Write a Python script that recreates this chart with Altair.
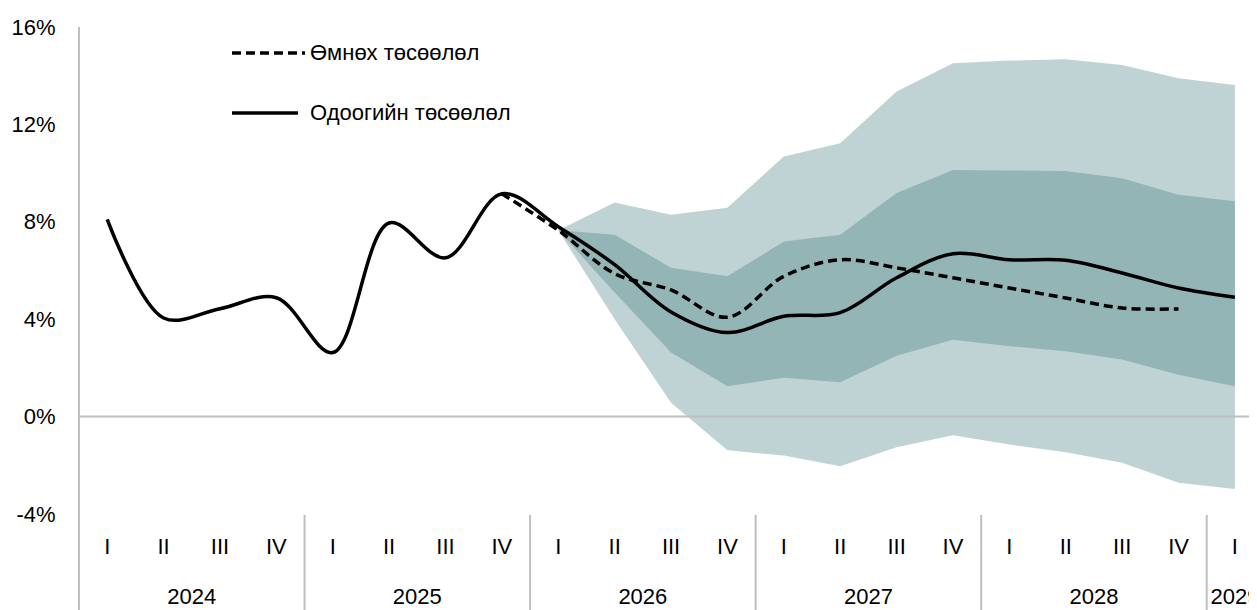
import altair as alt
import pandas as pd

# ---- data ----
quarters = ["I", "II", "III", "IV"] * 5 + ["I"]
years = ["2024", "2025", "2026", "2027", "2028", "2029"]
year_centers = [1.5, 5.5, 9.5, 13.5, 17.5, 20.0]
year_breaks = [3.5, 7.5, 11.5, 15.5, 19.5]

# current forecast (solid), 2024 I .. 2029 I
current = [8.1, 4.05, 4.43, 4.88, 2.63, 7.95, 6.52, 9.15, 7.8, 6.24, 4.3,
           3.45, 4.12, 4.27, 5.7, 6.69, 6.44, 6.42, 5.9, 5.28, 4.9]
# previous forecast (dashed), 2025 IV .. 2028 IV
previous_start = 7
previous = [9.15, 7.65, 5.87, 5.2, 4.08, 5.76, 6.44, 6.11, 5.7, 5.28, 4.87,
            4.46, 4.42]
# fan bands, 2026 I .. 2029 I
band_start = 8
outer_hi = [7.65, 8.79, 8.29, 8.58, 10.68, 11.23, 13.35, 14.51, 14.62, 14.68,
            14.44, 13.9, 13.62]
inner_hi = [7.65, 7.47, 6.11, 5.76, 7.19, 7.47, 9.18, 10.13, 10.11, 10.09,
            9.79, 9.11, 8.84]
inner_lo = [7.65, 5.1, 2.63, 1.25, 1.6, 1.41, 2.5, 3.16, 2.89, 2.68, 2.34,
            1.72, 1.25]
outer_lo = [7.65, 4.0, 0.57, -1.38, -1.6, -2.04, -1.26, -0.77, -1.15, -1.46,
            -1.9, -2.72, -2.97]

legend_labels = ["Өмнөх төсөөлөл", "Одоогийн төсөөлөл"]
y_ticks = [-4, 0, 4, 8, 12, 16]

# ---- tables ----
idx = list(range(len(current)))
df_cur = pd.DataFrame({"i": idx, "v": current})
df_prev = pd.DataFrame({"i": list(range(previous_start, previous_start + len(previous))),
                        "v": previous})
bi = list(range(band_start, band_start + len(outer_hi)))
df_band = pd.DataFrame({"i": bi, "oh": outer_hi, "ol": outer_lo,
                        "ih": inner_hi, "il": inner_lo})
df_q = pd.DataFrame({"i": idx, "q": quarters})
df_y = pd.DataFrame({"c": year_centers, "y": years})
df_sep = pd.DataFrame({"s": year_breaks})
df_zero = pd.DataFrame({"v": [0]})
df_leg1 = pd.DataFrame({"t": [legend_labels[0]]})
df_leg2 = pd.DataFrame({"t": [legend_labels[1]]})

W, H = 1170, 487
EXTRA = 96
FONT = "Liberation Sans"
FS = 22
GRAY = "#bfbfbf"

xs = alt.Scale(domain=[-0.5, 20.25], nice=False, zero=False)
ys = alt.Scale(domain=[-4, 16], nice=False, zero=False)
X = lambda f: alt.X(f, scale=xs, axis=None)

outer = alt.Chart(df_band).mark_area(color="#bfd3d5", opacity=1).encode(
    x=X("i:Q"),
    y=alt.Y("oh:Q", scale=ys, axis=alt.Axis(values=y_ticks, labelExpr="datum.value + '%'",
                                             ticks=False, domain=False, grid=False,
                                             labelFontSize=FS, labelFont=FONT,
                                             labelColor="#000", labelPadding=24, title=None)),
    y2="ol:Q")
inner = alt.Chart(df_band).mark_area(color="#93b5b6", opacity=1).encode(
    x=X("i:Q"), y=alt.Y("ih:Q", scale=ys), y2="il:Q")

zero = alt.Chart(df_zero).mark_rule(color=GRAY, strokeWidth=2).encode(
    y=alt.Y("v:Q", scale=ys), x=alt.value(0), x2=alt.value(W))

left_axis = alt.Chart(df_zero).mark_rule(color=GRAY, strokeWidth=2).encode(
    x=alt.value(0), y=alt.value(0), y2=alt.value(H + EXTRA))

seps = alt.Chart(df_sep).mark_rule(color=GRAY, strokeWidth=2).encode(
    x=X("s:Q"), y=alt.value(H + 1), y2=alt.value(H + EXTRA))

prev_line = alt.Chart(df_prev).mark_line(color="#000", strokeWidth=3.5,
                                         strokeDash=[9, 5], interpolate="catmull-rom").encode(
    x=X("i:Q"), y=alt.Y("v:Q", scale=ys))
cur_line = alt.Chart(df_cur).mark_line(color="#000", strokeWidth=3.5,
                                       interpolate="catmull-rom").encode(
    x=X("i:Q"), y=alt.Y("v:Q", scale=ys))

q_text = alt.Chart(df_q).mark_text(font=FONT, fontSize=FS, color="#000",
                                   baseline="middle", align="center").encode(
    x=X("i:Q"), y=alt.value(520), text="q:N")
y_text = alt.Chart(df_y).mark_text(font=FONT, fontSize=FS, color="#000",
                                   baseline="middle", align="center").encode(
    x=X("c:Q"), y=alt.value(570), text="y:N")

leg1_line = alt.Chart(df_leg1).mark_rule(color="#000", strokeWidth=3.5, strokeDash=[9, 5]).encode(
    x=alt.value(153), x2=alt.value(226), y=alt.value(26))
leg1_text = alt.Chart(df_leg1).mark_text(font=FONT, fontSize=FS, color="#000",
                                         align="left", baseline="middle").encode(
    x=alt.value(231), y=alt.value(26), text="t:N")
leg2_line = alt.Chart(df_leg2).mark_rule(color="#000", strokeWidth=3.5).encode(
    x=alt.value(153), x2=alt.value(219), y=alt.value(86))
leg2_text = alt.Chart(df_leg2).mark_text(font=FONT, fontSize=FS, color="#000",
                                         align="left", baseline="middle").encode(
    x=alt.value(231), y=alt.value(86), text="t:N")

chart = alt.layer(outer, inner, zero, left_axis, seps, prev_line, cur_line,
                  q_text, y_text, leg1_line, leg1_text, leg2_line, leg2_text).properties(
    width=W, height=H,
    autosize=alt.AutoSizeParams(type="none"),
    padding={"left": 71, "top": 19, "right": 0, "bottom": EXTRA},
).configure_view(stroke=None)

chart.save("out.html", embed_options={"renderer": "svg", "actions": False})
